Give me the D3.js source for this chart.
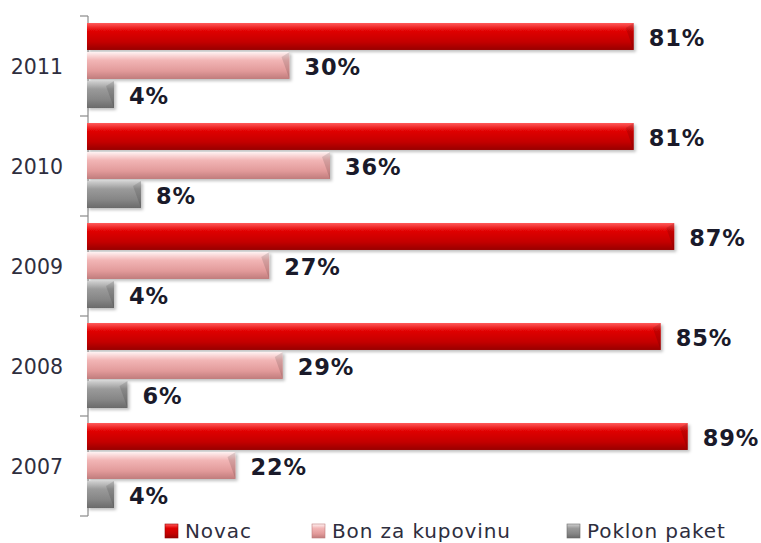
<!DOCTYPE html>
<html>
<head>
<meta charset="utf-8">
<script src="https://d3js.org/d3.v7.min.js"></script>
<style>
  body { margin: 0; background: #fff; }
  text { font-family: "DejaVu Sans", Verdana, sans-serif; }
</style>
</head>
<body>
<svg id="chart" width="761" height="543"></svg>
<script>
// data
var years = ["2011", "2010", "2009", "2008", "2007"];
var series = ["Novac", "Bon za kupovinu", "Poklon paket"];
var novac = [81, 81, 87, 85, 89];
var bon = [30, 36, 27, 29, 22];
var poklon = [4, 8, 4, 6, 4];

var values = [novac, bon, poklon];
var colors = [
  ["#ff5a5a", "#e00000", "#c40000", "#980000"],
  ["#fff2f2", "#f2b6b6", "#e29a9a", "#c07c7c"],
  ["#d0d0d0", "#9a9a9a", "#858585", "#6a6a6a"]
];

var svg = d3.select("#chart");
var defs = svg.append("defs");
colors.forEach(function (c, i) {
  var g = defs.append("linearGradient").attr("id", "g" + i)
    .attr("x1", 0).attr("y1", 0).attr("x2", 0).attr("y2", 1);
  g.append("stop").attr("offset", "0%").attr("stop-color", c[0]);
  g.append("stop").attr("offset", "30%").attr("stop-color", c[1]);
  g.append("stop").attr("offset", "70%").attr("stop-color", c[2]);
  g.append("stop").attr("offset", "100%").attr("stop-color", c[3]);
});
var f = defs.append("filter").attr("id", "sh").attr("x", "-5%").attr("y", "-20%").attr("width", "120%").attr("height", "160%");
f.append("feDropShadow").attr("dx", 2).attr("dy", 2).attr("stdDeviation", 1.5).attr("flood-color", "#000").attr("flood-opacity", 0.25);

var x = d3.scaleLinear().domain([0, 100]).range([87, 762]);
var y = d3.scaleBand().domain(years).range([16, 516]);
var inner = d3.scaleBand().domain(d3.range(3)).range([7, 92]).paddingInner(0.07);

// axis line with ticks at band boundaries
var axisX = 88;
svg.append("line").attr("x1", axisX).attr("x2", axisX).attr("y1", y.range()[0]).attr("y2", y.range()[1])
  .attr("stroke", "#8a8a8a").attr("stroke-width", 1.2);
var bounds = years.map(function (d) { return y(d); }).concat([y.range()[1]]);
svg.selectAll(".tk").data(bounds).enter().append("line")
  .attr("x1", axisX - 8).attr("x2", axisX).attr("y1", function (d) { return d; }).attr("y2", function (d) { return d; })
  .attr("stroke", "#8a8a8a").attr("stroke-width", 1.2);

// year labels
svg.selectAll(".yr").data(years).enter().append("text")
  .attr("x", 63).attr("y", function (d) { return y(d) + y.bandwidth() / 2 + 2; })
  .attr("text-anchor", "end").attr("dominant-baseline", "middle")
  .attr("font-size", 20.5).attr("fill", "#2e2e3e").text(function (d) { return d; });

// bars
series.forEach(function (s, si) {
  var g = svg.append("g");
  var rows = years.map(function (yr, i) { return { yr: yr, v: values[si][i] }; });
  g.selectAll("rect").data(rows).enter().append("rect")
    .attr("x", x(0))
    .attr("y", function (d) { return y(d.yr) + inner(si); })
    .attr("width", function (d) { return x(d.v) - x(0); })
    .attr("height", inner.bandwidth())
    .attr("fill", "url(#g" + si + ")")
    .attr("filter", "url(#sh)");
  // bevel at the bar end
  g.selectAll("path").data(rows).enter().append("path")
    .attr("d", function (d) {
      var x1 = x(d.v), y0 = y(d.yr) + inner(si), h = inner.bandwidth();
      return "M" + (x1 - 8) + "," + (y0 + 5) + "L" + x1 + "," + y0 + "L" + x1 + "," + (y0 + h) + "Z";
    })
    .attr("fill", "#000").attr("opacity", 0.12);
  g.selectAll("text").data(rows).enter().append("text")
    .attr("x", function (d) { return x(d.v) + 15; })
    .attr("y", function (d) { return y(d.yr) + inner(si) + inner.bandwidth() / 2 + 3; })
    .attr("dominant-baseline", "middle")
    .attr("font-size", 22.5).attr("font-weight", "bold").attr("letter-spacing", 0.8)
    .attr("fill", "#1a1a2a")
    .text(function (d) { return d.v + "%"; });
});

// legend
var legX = [165, 312, 567];
var leg = svg.selectAll(".leg").data(series).enter().append("g")
  .attr("transform", function (d, i) { return "translate(" + legX[i] + ",524)"; });
leg.append("rect").attr("width", 13).attr("height", 14)
  .attr("fill", function (d, i) { return "url(#g" + i + ")"; })
  .attr("stroke", function (d, i) { return colors[i][3]; }).attr("stroke-width", 0.6);
leg.append("text").attr("x", 20).attr("y", 8).attr("dominant-baseline", "middle")
  .attr("font-size", 20).attr("letter-spacing", 0.9).attr("fill", "#2e2e3e").text(function (d) { return d; });
</script>
</body>
</html>
